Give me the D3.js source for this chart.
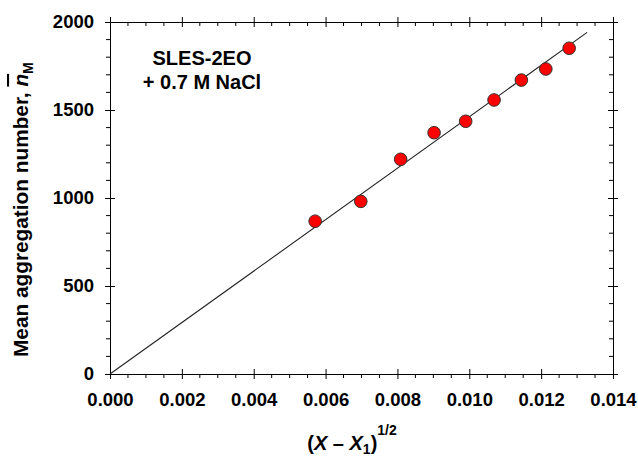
<!DOCTYPE html>
<html>
<head>
<meta charset="utf-8">
<script src="https://cdn.jsdelivr.net/npm/d3@7"></script>
<style>
  body { margin: 0; background: #fff; }
  svg text { font-family: "Liberation Sans", Arial, sans-serif; font-weight: bold; fill: #000; }
  .axis path, .axis line { stroke: #000; stroke-width: 1; }
</style>
</head>
<body>
<div id="chart"></div>
<script>
// measured points
const xVals = [0.00571, 0.00698, 0.00809, 0.00902, 0.00990, 0.01069, 0.01145, 0.01213, 0.01278];
const yVals = [868, 981, 1220, 1371, 1436, 1557, 1670, 1733, 1851];
// fitted straight line through origin
const fitX = [0, 0.01328];
const fitY = [0, 1941];
const xTicks = [0, 0.002, 0.004, 0.006, 0.008, 0.010, 0.012, 0.014];
const yTicks = [0, 500, 1000, 1500, 2000];
const labelLines = ['SLES-2EO', '+ 0.7 M NaCl'];

const width = 638, height = 457;
const margin = {left: 110, right: 25, top: 22, bottom: 83};

const svg = d3.select('#chart').append('svg')
  .attr('width', width)
  .attr('height', height);

const x = d3.scaleLinear().domain([0, 0.014]).range([margin.left, width - margin.right]);
const y = d3.scaleLinear().domain([0, 2000]).range([height - margin.bottom, margin.top]);

const xMinor = d3.range(0, 0.01401, 0.0005).filter((v, i) => i % 4 !== 0);
const yMinor = d3.range(0, 2001, 100).filter((v, i) => i % 5 !== 0);

// minor ticks (drawn first)
const minor = svg.append('g').attr('class', 'axis');
xMinor.forEach(v => {
  minor.append('line').attr('x1', x(v)).attr('x2', x(v)).attr('y1', y(0)).attr('y2', y(0) + 4);
  minor.append('line').attr('x1', x(v)).attr('x2', x(v)).attr('y1', y(2000)).attr('y2', y(2000) + 4);
});
yMinor.forEach(v => {
  minor.append('line').attr('x1', x(0) - 4).attr('x2', x(0)).attr('y1', y(v)).attr('y2', y(v));
  minor.append('line').attr('x1', x(0.014) - 4).attr('x2', x(0.014)).attr('y1', y(v)).attr('y2', y(v));
});

const axBottom = svg.append('g').attr('class', 'axis')
  .attr('transform', `translate(0,${y(0)})`)
  .call(d3.axisBottom(x).tickValues(xTicks).tickFormat(d3.format('.3f')).tickSizeOuter(0).tickSize(5).tickPadding(14));
axBottom.selectAll('.tick line').attr('y1', -5);
axBottom.selectAll('text').style('font-size', '18.5px');

const axTop = svg.append('g').attr('class', 'axis')
  .attr('transform', `translate(0,${y(2000)})`)
  .call(d3.axisTop(x).tickValues(xTicks).tickFormat('').tickSizeOuter(0).tickSize(5));
axTop.selectAll('.tick line').attr('y1', 5);

const axLeft = svg.append('g').attr('class', 'axis')
  .attr('transform', `translate(${x(0)},0)`)
  .call(d3.axisLeft(y).tickValues(yTicks).tickFormat(d3.format('d')).tickSizeOuter(0).tickSize(5).tickPadding(11));
axLeft.selectAll('.tick line').attr('x1', 5);
axLeft.selectAll('text').style('font-size', '18.5px');

const axRight = svg.append('g').attr('class', 'axis')
  .attr('transform', `translate(${x(0.014)},0)`)
  .call(d3.axisRight(y).tickValues(yTicks).tickFormat('').tickSizeOuter(0).tickSize(5));
axRight.selectAll('.tick line').attr('x1', -5);

// fit line
const line = d3.line().x(d => x(d[0])).y(d => y(d[1]));
svg.append('path')
  .datum(d3.zip(fitX, fitY))
  .attr('d', line)
  .attr('fill', 'none')
  .attr('stroke', '#222')
  .attr('stroke-width', 1.1);

// points
svg.selectAll('.pt')
  .data(d3.zip(xVals, yVals))
  .enter()
  .append('circle')
  .attr('class', 'pt')
  .attr('cx', d => x(d[0]))
  .attr('cy', d => y(d[1]))
  .attr('r', 6.3)
  .attr('fill', '#ff0000')
  .attr('stroke', '#333')
  .attr('stroke-width', 1);

// annotation
svg.selectAll('.lbl')
  .data(labelLines)
  .enter()
  .append('text')
  .attr('class', 'lbl')
  .attr('x', 202)
  .attr('y', (d, i) => 65 + i * 24)
  .attr('text-anchor', 'middle')
  .style('font-size', '20px')
  .text(d => d);

// y title, starts at the bottom and runs upward
const yt = svg.append('text')
  .attr('transform', 'translate(28,357) rotate(-90)')
  .attr('text-anchor', 'start')
  .style('font-size', '20.8px');
yt.append('tspan').text('Mean aggregation number, ');
yt.append('tspan').style('font-style', 'italic').style('text-decoration', 'overline').text('n');
yt.append('tspan').attr('dy', 5).style('font-size', '14px').text('M');

// x title
const xt = svg.append('text')
  .attr('x', 352)
  .attr('y', 450)
  .attr('text-anchor', 'middle')
  .style('font-size', '20px');
xt.append('tspan').text('(');
xt.append('tspan').style('font-style', 'italic').text('X');
xt.append('tspan').text(' \u2013 ');
xt.append('tspan').style('font-style', 'italic').text('X');
xt.append('tspan').attr('dy', 4).style('font-size', '14px').text('1');
xt.append('tspan').attr('dy', -4).text(')');
xt.append('tspan').attr('dy', -15).style('font-size', '14px').text('1/2');
</script>
</body>
</html>
